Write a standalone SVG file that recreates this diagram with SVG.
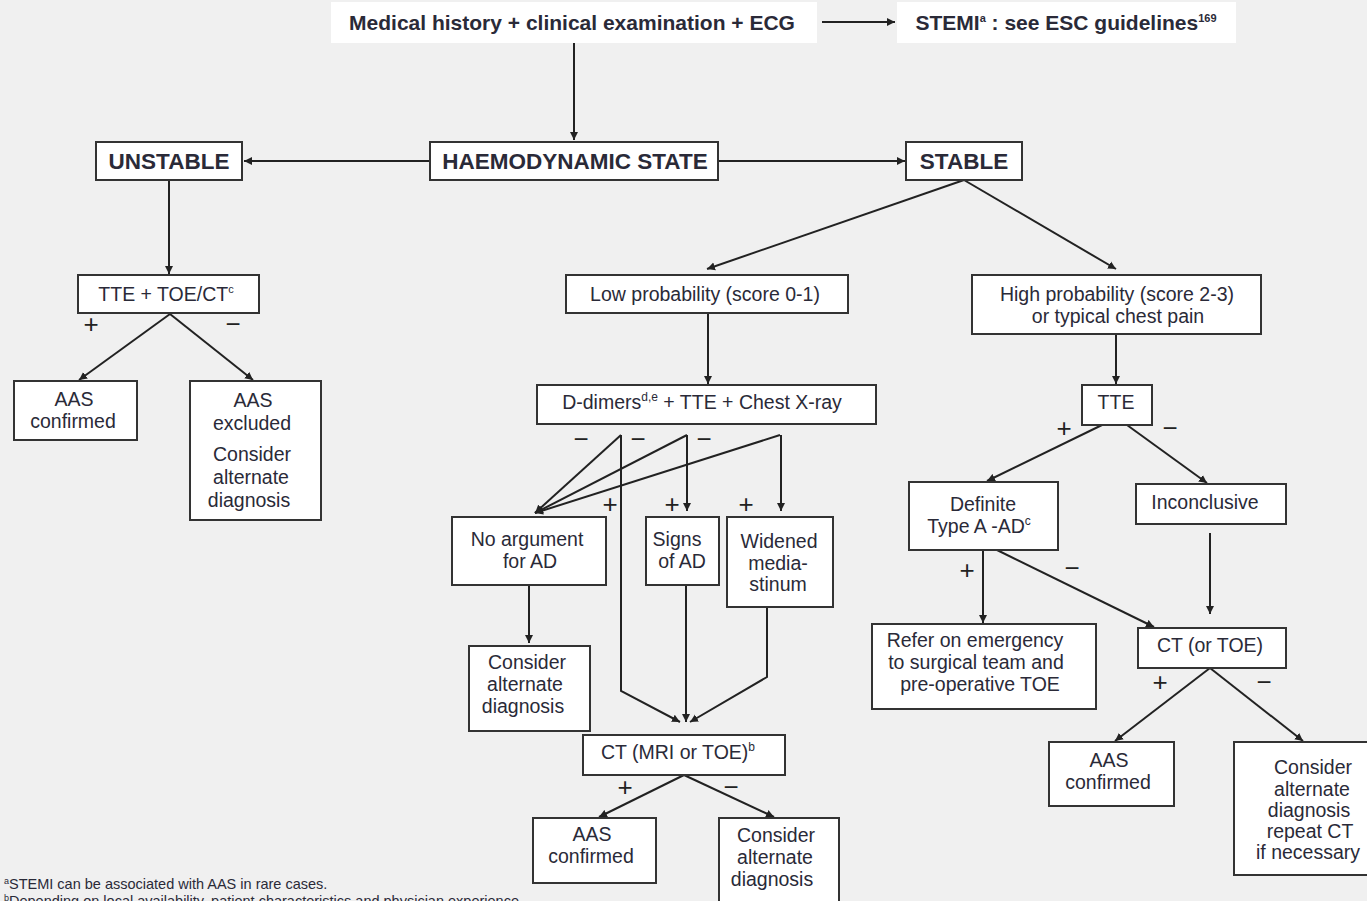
<svg xmlns="http://www.w3.org/2000/svg" width="1367" height="901" viewBox="0 0 1367 901">
<defs>
<marker id="ah" markerUnits="userSpaceOnUse" markerWidth="9" markerHeight="9" refX="8" refY="4.5" orient="auto">
<path d="M0,0.5 L8,4.5 L0,8.5 z" fill="#222"/>
</marker>
<style>
.box{fill:#fff;stroke:#333;stroke-width:2}
.plain{fill:#fff;stroke:none}
.t{font-family:"Liberation Sans",Arial,sans-serif;font-size:19.5px;fill:#2a2a38;text-anchor:middle}
.b{font-family:"Liberation Sans",Arial,sans-serif;font-size:21px;font-weight:bold;fill:#2a2a38;text-anchor:middle}
.h{font-family:"Liberation Sans",Arial,sans-serif;font-size:22.5px;font-weight:bold;fill:#2a2a38;text-anchor:middle}
.s{font-family:"Liberation Sans",Arial,sans-serif;font-size:26px;fill:#222;text-anchor:middle}
.fn{font-family:"Liberation Sans",Arial,sans-serif;font-size:14.5px;fill:#2a2a38}
.c line,.c polyline{stroke:#222;stroke-width:2;fill:none}
.a{marker-end:url(#ah)}
</style>
</defs>
<rect x="0" y="0" width="1367" height="901" fill="#f0f0f0"/>

<g id="connectors" class="c">
<line class="a" x1="822" y1="22" x2="895" y2="22"/>
<line class="a" x1="574" y1="43" x2="574" y2="140"/>
<line class="a" x1="430" y1="161" x2="244" y2="161"/>
<line class="a" x1="718" y1="161" x2="905" y2="161"/>
<line class="a" x1="169" y1="180" x2="169" y2="274"/>
<line class="a" x1="170" y1="314" x2="79" y2="380"/>
<line class="a" x1="170" y1="314" x2="253" y2="380"/>
<line class="a" x1="964" y1="180" x2="707" y2="269"/>
<line class="a" x1="964" y1="180" x2="1116" y2="269"/>
<line class="a" x1="708" y1="313" x2="708" y2="384"/>
<line class="a" x1="1116" y1="334" x2="1116" y2="384"/>
<line class="a" x1="621" y1="435" x2="535" y2="513"/>
<line class="a" x1="687" y1="435" x2="535" y2="513"/>
<line class="a" x1="780" y1="435" x2="535" y2="513"/>
<line class="a" x1="687" y1="435" x2="687" y2="511"/>
<line class="a" x1="781" y1="435" x2="781" y2="511"/>
<polyline class="a" points="621,435 621,691 680,722"/>
<line class="a" x1="686" y1="585" x2="686" y2="722"/>
<polyline class="a" points="767,607 767,677 690,722"/>
<line class="a" x1="529" y1="585" x2="529" y2="643"/>
<line class="a" x1="684" y1="775" x2="599" y2="817"/>
<line class="a" x1="684" y1="775" x2="774" y2="817"/>
<line class="a" x1="1102" y1="425" x2="987" y2="481"/>
<line class="a" x1="1127" y1="425" x2="1207" y2="483"/>
<line class="a" x1="983" y1="550" x2="983" y2="623"/>
<line class="a" x1="997" y1="550" x2="1154" y2="627"/>
<line class="a" x1="1210" y1="533" x2="1210" y2="614"/>
<line class="a" x1="1210" y1="668" x2="1115" y2="741"/>
<line class="a" x1="1210" y1="668" x2="1303" y2="741"/>
</g>

<g id="signs">
<text class="s" x="91" y="333">+</text>
<text class="s" x="233" y="333">−</text>
<text class="s" x="581" y="448">−</text>
<text class="s" x="638" y="448">−</text>
<text class="s" x="704" y="448">−</text>
<text class="s" x="610" y="513">+</text>
<text class="s" x="672" y="513">+</text>
<text class="s" x="746" y="513">+</text>
<text class="s" x="625" y="796">+</text>
<text class="s" x="731" y="796">−</text>
<text class="s" x="1064" y="437">+</text>
<text class="s" x="1170" y="437">−</text>
<text class="s" x="967" y="579">+</text>
<text class="s" x="1072" y="577">−</text>
<text class="s" x="1160" y="691">+</text>
<text class="s" x="1264" y="691">−</text>
</g>

<g id="n-medical">
<rect class="plain" x="331" y="2" width="486" height="41"/>
<text class="b" x="572" y="30">Medical history + clinical examination + ECG</text>
</g>
<g id="n-stemi">
<rect class="plain" x="897" y="2" width="339" height="41"/>
<text class="b" x="1066" y="30">STEMI<tspan font-size="11" dy="-8">a</tspan><tspan dy="8"> : see ESC guidelines</tspan><tspan font-size="11" dy="-8">169</tspan></text>
</g>
<g id="n-unstable">
<rect class="box" x="96" y="142" width="146" height="38"/>
<text class="h" x="169" y="169">UNSTABLE</text>
</g>
<g id="n-haemo">
<rect class="box" x="430" y="142" width="288" height="38"/>
<text class="h" x="575" y="169">HAEMODYNAMIC STATE</text>
</g>
<g id="n-stable">
<rect class="box" x="906" y="142" width="116" height="38"/>
<text class="h" x="964" y="169">STABLE</text>
</g>
<g id="n-tte-toe">
<rect class="box" x="78" y="275" width="181" height="38"/>
<text class="t" x="166" y="301">TTE + TOE/CT<tspan font-size="11" dy="-8">c</tspan></text>
</g>
<g id="n-aas-conf-1">
<rect class="box" x="14" y="381" width="123" height="59"/>
<text class="t" x="74" y="406">AAS</text>
<text class="t" x="73" y="428">confirmed</text>
</g>
<g id="n-aas-excl">
<rect class="box" x="190" y="381" width="131" height="139"/>
<text class="t" x="253" y="407">AAS</text>
<text class="t" x="252" y="430">excluded</text>
<text class="t" x="252" y="461">Consider</text>
<text class="t" x="251" y="484">alternate</text>
<text class="t" x="249" y="507">diagnosis</text>
</g>
<g id="n-low">
<rect class="box" x="566" y="275" width="282" height="38"/>
<text class="t" x="705" y="301">Low probability (score 0-1)</text>
</g>
<g id="n-high">
<rect class="box" x="972" y="275" width="289" height="59"/>
<text class="t" x="1117" y="301">High probability (score 2-3)</text>
<text class="t" x="1118" y="323">or typical chest pain</text>
</g>
<g id="n-ddimers">
<rect class="box" x="537" y="385" width="339" height="39"/>
<text class="t" x="702" y="409">D-dimers<tspan font-size="12" dy="-8">d,e</tspan><tspan dy="8"> + TTE + Chest X-ray</tspan></text>
</g>
<g id="n-noarg">
<rect class="box" x="452" y="517" width="154" height="68"/>
<text class="t" x="527" y="546">No argument</text>
<text class="t" x="530" y="568">for AD</text>
</g>
<g id="n-signs">
<rect class="box" x="646" y="517" width="73" height="68"/>
<text class="t" x="677" y="546">Signs</text>
<text class="t" x="682" y="568">of AD</text>
</g>
<g id="n-widened">
<rect class="box" x="727" y="517" width="106" height="90"/>
<text class="t" x="779" y="548">Widened</text>
<text class="t" x="778" y="570">media-</text>
<text class="t" x="778" y="591">stinum</text>
</g>
<g id="n-consider-1">
<rect class="box" x="469" y="646" width="121" height="85"/>
<text class="t" x="527" y="669">Consider</text>
<text class="t" x="525" y="691">alternate</text>
<text class="t" x="523" y="713">diagnosis</text>
</g>
<g id="n-ct-mri">
<rect class="box" x="583" y="735" width="202" height="40"/>
<text class="t" x="678" y="759">CT (MRI or TOE)<tspan font-size="12" dy="-8">b</tspan></text>
</g>
<g id="n-aas-conf-2">
<rect class="box" x="533" y="818" width="123" height="65"/>
<text class="t" x="592" y="841">AAS</text>
<text class="t" x="591" y="863">confirmed</text>
</g>
<g id="n-consider-2">
<rect class="box" x="719" y="818" width="120" height="90"/>
<text class="t" x="776" y="842">Consider</text>
<text class="t" x="775" y="864">alternate</text>
<text class="t" x="772" y="886">diagnosis</text>
</g>
<g id="n-tte">
<rect class="box" x="1082" y="385" width="70" height="40"/>
<text class="t" x="1116" y="409">TTE</text>
</g>
<g id="n-definite">
<rect class="box" x="909" y="482" width="149" height="68"/>
<text class="t" x="983" y="511">Definite</text>
<text class="t" x="979" y="533">Type A -AD<tspan font-size="12" dy="-8">c</tspan></text>
</g>
<g id="n-inconclusive">
<rect class="box" x="1136" y="484" width="150" height="40"/>
<text class="t" x="1205" y="509">Inconclusive</text>
</g>
<g id="n-refer">
<rect class="box" x="872" y="624" width="224" height="85"/>
<text class="t" x="975" y="647">Refer on emergency</text>
<text class="t" x="976" y="669">to surgical team and</text>
<text class="t" x="980" y="691">pre-operative TOE</text>
</g>
<g id="n-ct-toe">
<rect class="box" x="1138" y="628" width="148" height="40"/>
<text class="t" x="1210" y="652">CT (or TOE)</text>
</g>
<g id="n-aas-conf-3">
<rect class="box" x="1049" y="742" width="125" height="64"/>
<text class="t" x="1109" y="767">AAS</text>
<text class="t" x="1108" y="789">confirmed</text>
</g>
<g id="n-consider-3">
<rect class="box" x="1234" y="742" width="140" height="133"/>
<text class="t" x="1313" y="774">Consider</text>
<text class="t" x="1312" y="796">alternate</text>
<text class="t" x="1309" y="817">diagnosis</text>
<text class="t" x="1310" y="838">repeat CT</text>
<text class="t" x="1308" y="859">if necessary</text>
</g>

<g id="footnotes">
<text class="fn" x="4" y="889"><tspan font-size="9" dy="-5">a</tspan><tspan dy="5">STEMI can be associated with AAS in rare cases.</tspan></text>
<text class="fn" x="4" y="906"><tspan font-size="9" dy="-5">b</tspan><tspan dy="5">Depending on local availability, patient characteristics and physician experience.</tspan></text>
</g>
</svg>
